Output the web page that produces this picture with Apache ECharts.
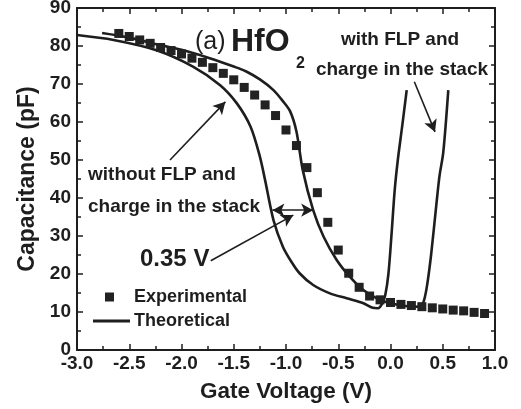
<!DOCTYPE html>
<html>
<head>
<meta charset="utf-8">
<script src="https://cdn.jsdelivr.net/npm/echarts@6/dist/echarts.min.js"></script>
<style>
html,body{margin:0;padding:0;background:#fff;}
#chart{width:521px;height:409px;}
</style>
</head>
<body>
<div id="chart"></div>
<script>
// Experimental data (squares)
var expV = [-2.6,-2.5,-2.4,-2.3,-2.2,-2.1,-2.0,-1.9,-1.8,-1.7,-1.6,-1.5,-1.4,-1.3,-1.2,-1.1,-1.0,-0.9,-0.8,-0.7,-0.6,-0.5,-0.4,-0.3,-0.2,-0.1,0.0,0.1,0.2,0.3,0.4,0.5,0.6,0.7,0.8,0.9];
var expC = [83.3,82.5,81.6,80.7,79.6,78.8,77.9,76.8,75.7,74.3,72.8,71.1,69.1,67.1,64.5,61.7,57.9,53.8,48.0,41.4,33.6,26.3,20.2,16.5,14.2,13.2,12.5,12.0,11.7,11.4,11.1,10.8,10.5,10.3,9.9,9.6];

// Theoretical curve without FLP and charge in the stack
var noFlpV = [-3.0,-2.65,-2.24,-1.89,-1.63,-1.47,-1.34,-1.25,-1.20,-1.12,-1.03,-0.95,-0.87,-0.74,-0.58,-0.42,-0.26,-0.17,-0.12,-0.08,-0.05,-0.02,0.01,0.04,0.07,0.11,0.155];
var noFlpC = [82.9,81.6,78.9,74.6,69.7,64.9,58.8,50.9,44.7,34.2,27.2,23.3,20.2,17.1,14.9,13.6,12.3,11.1,11.0,12.2,14.5,20.0,30.5,42.0,50.0,58.5,68.4];

// Theoretical curve with FLP and charge in the stack
var flpV = [-2.76,-2.5,-2.21,-2.0,-1.73,-1.5,-1.38,-1.25,-1.12,-1.03,-0.96,-0.90,-0.84,-0.74,-0.64,-0.515,-0.39,-0.26,-0.13,0.0,0.22,0.29,0.32,0.35,0.39,0.44,0.47,0.505,0.553];
var flpC = [83.4,82.2,80.3,79.0,76.8,74.6,73.3,71.2,68.4,65.5,62.8,57.5,47.4,36.8,29.8,23.7,19.3,15.8,13.6,12.3,11.4,11.5,13.0,17.0,25.4,38.6,46.0,52.0,68.4];

// Axis ticks
var xTicks = {min: -3.0, max: 1.0, interval: 0.5};
var yTicks = {min: 0, max: 90, interval: 10};

// Annotation arrows (data coordinates)
var arrowNoFlp = [[-2.11, 50.0], [-1.58, 65.3]];
var arrowShift = [[-1.13, 36.8], [-0.74, 36.8]];
var arrow035 = [[-1.72, 23.5], [-0.93, 35.5]];
var arrowFlp = [[0.228, 70.6], [0.426, 57.4]];

function zip(a, b) { return a.map(function (v, i) { return [v, b[i]]; }); }

var FONT = "'Liberation Sans', Arial, Helvetica, sans-serif";
var INK = '#1e1e1e';

var chart = echarts.init(document.getElementById('chart'), null, {renderer: 'canvas'});

function baseX(pos, showLabel) {
  return {
    type: 'value', position: pos, min: xTicks.min, max: xTicks.max, interval: xTicks.interval,
    axisLine: {show: true, onZero: false, lineStyle: {color: INK, width: 2}},
    axisTick: {show: true, inside: true, length: 6, lineStyle: {color: INK, width: 1.5}},
    minorTick: {show: true, splitNumber: 2, length: 4, lineStyle: {color: INK, width: 1.5}},
    splitLine: {show: false},
    axisLabel: {show: showLabel, color: INK, fontFamily: FONT, fontWeight: 'bold', fontSize: 19, margin: 4,
      formatter: function (v) { return v.toFixed(1); }},
    name: showLabel ? 'Gate Voltage (V)' : '', nameLocation: 'middle', nameGap: 30,
    nameTextStyle: {color: INK, fontFamily: FONT, fontWeight: 'bold', fontSize: 22.5}
  };
}
function baseY(pos, showLabel) {
  return {
    type: 'value', position: pos, min: yTicks.min, max: yTicks.max, interval: yTicks.interval,
    axisLine: {show: true, onZero: false, lineStyle: {color: INK, width: 2}},
    axisTick: {show: true, inside: true, length: 6, lineStyle: {color: INK, width: 1.5}},
    minorTick: {show: true, splitNumber: 2, length: 4, lineStyle: {color: INK, width: 1.5}},
    splitLine: {show: false},
    axisLabel: {show: showLabel, color: INK, fontFamily: FONT, fontWeight: 'bold', fontSize: 19, margin: 6},
    name: showLabel ? 'Capacitance (pF)' : '', nameLocation: 'middle', nameGap: 37,
    nameTextStyle: {color: INK, fontFamily: FONT, fontWeight: 'bold', fontSize: 23}
  };
}

function arrowLine(pair, both) {
  return [{coord: pair[0], symbol: both ? 'arrow' : 'none'}, {coord: pair[1], symbol: 'arrow'}];
}

var option = {
  backgroundColor: '#ffffff',
  animation: false,
  grid: {left: 77, right: 26, top: 8, bottom: 59, containLabel: false, outerBoundsMode: 'none'},
  xAxis: [baseX('bottom', true), baseX('top', false)],
  yAxis: [baseY('left', true), baseY('right', false)],
  legend: {
    show: true, orient: 'vertical', left: 93, top: 288, itemGap: 6, padding: 0,
    itemWidth: 37, itemHeight: 9,
    textStyle: {color: INK, fontFamily: FONT, fontWeight: 'bold', fontSize: 18, padding: [0, 0, 0, -1]},
    data: [
      {name: 'Experimental', icon: 'path://M12,0L21,0L21,9L12,9Z M0,4.5L0,4.5Z M37,4.5L37,4.5Z', itemStyle: {color: '#222222', opacity: 1}},
      {name: 'Theoretical', icon: 'path://M0,0L40,0L40,3L0,3Z', itemStyle: {color: INK, opacity: 1}}
    ]
  },
  series: [
    {
      name: 'Experimental', type: 'scatter', xAxisIndex: 0, yAxisIndex: 0,
      data: zip(expV, expC), symbol: 'rect', symbolSize: 9,
      itemStyle: {color: '#222222', opacity: 1}, z: 3,
      markLine: {
        silent: true, symbolSize: [10, 12], precision: 3,
        label: {show: false},
        lineStyle: {color: INK, width: 1.6, type: 'solid', opacity: 1},
        data: [
          arrowLine(arrowNoFlp, false),
          arrowLine(arrowShift, true),
          arrowLine(arrow035, false),
          arrowLine(arrowFlp, false)
        ]
      }
    },
    {
      name: 'Theoretical', type: 'line', xAxisIndex: 0, yAxisIndex: 0,
      data: zip(noFlpV, noFlpC), showSymbol: false, symbol: 'none', smooth: 0.3,
      lineStyle: {color: INK, width: 2.6}, itemStyle: {color: INK}, z: 2
    },
    {
      name: 'Theoretical', type: 'line', xAxisIndex: 0, yAxisIndex: 0,
      data: zip(flpV, flpC), showSymbol: false, symbol: 'none', smooth: 0.3,
      lineStyle: {color: INK, width: 2.6}, itemStyle: {color: INK}, z: 2
    }
  ],
  graphic: [
    {type: 'text', x: 195, y: 42, style: {text: '(a)', fill: INK, font: 'normal 25px ' + FONT, verticalAlign: 'middle', align: 'left'}},
    {type: 'text', x: 231, y: 42, style: {text: 'HfO', fill: INK, font: 'bold 32px ' + FONT, verticalAlign: 'middle', align: 'left'}},
    {type: 'text', x: 296, y: 64, style: {text: '2', fill: INK, font: 'bold 16px ' + FONT, verticalAlign: 'middle', align: 'left'}},
    {type: 'text', x: 400, y: 40, style: {text: 'with FLP and', fill: INK, font: 'bold 19px ' + FONT, verticalAlign: 'middle', align: 'center'}},
    {type: 'text', x: 402, y: 70, style: {text: 'charge in the stack', fill: INK, font: 'bold 19px ' + FONT, verticalAlign: 'middle', align: 'center'}},
    {type: 'text', x: 88, y: 175, style: {text: 'without FLP and', fill: INK, font: 'bold 19px ' + FONT, verticalAlign: 'middle', align: 'left'}},
    {type: 'text', x: 88, y: 207, style: {text: 'charge in the stack', fill: INK, font: 'bold 19px ' + FONT, verticalAlign: 'middle', align: 'left'}},
    {type: 'text', x: 140, y: 259, style: {text: '0.35 V', fill: INK, font: 'bold 24px ' + FONT, verticalAlign: 'middle', align: 'left'}}
  ]
};
chart.setOption(option);
</script>
</body>
</html>
